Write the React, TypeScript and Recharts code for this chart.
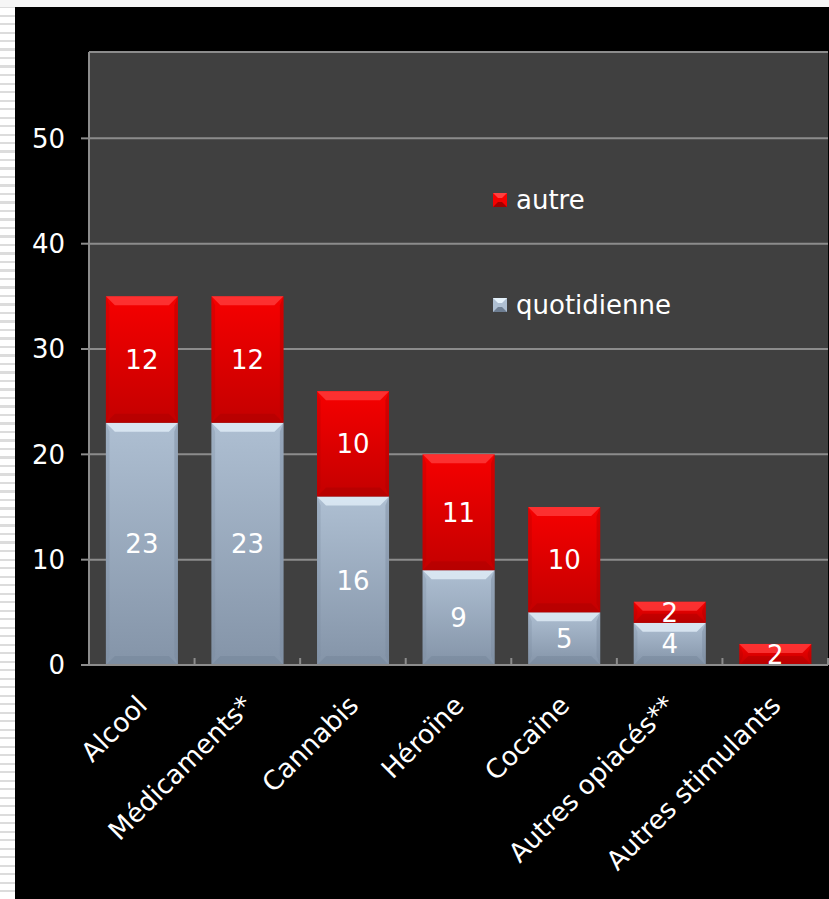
import React from "react"
import { BarChart, Bar, XAxis, YAxis, CartesianGrid, Legend, LabelList } from "recharts"

const categories = ["Alcool", "Médicaments*", "Cannabis", "Héroïne", "Cocaïne", "Autres opiacés**", "Autres stimulants"]
const quotidienne = [23, 23, 16, 9, 5, 4, 0]
const autre = [12, 12, 10, 11, 10, 2, 2]
const yTicks = [0, 10, 20, 30, 40, 50]
const legendOrder = ["autre", "quotidienne"]

const data = categories.map((name, i) => ({ name, quotidienne: quotidienne[i], autre: autre[i] }))

const FONT = "'DejaVu Sans', Verdana, sans-serif"
const GRID = "#8c8c8c"

const palette: Record<string, { top: string; bottom: string; light: string; dark: string; side: string }> = {
  red: { top: "#f60000", bottom: "#c40000", light: "#ff4040", dark: "#a00000", side: "#b00000" },
  grey: { top: "#aebfd2", bottom: "#8494a8", light: "#e6f2fb", dark: "#6e7e92", side: "#7a8a9e" },
}

function BevelBar(props: any) {
  const { x, y, width, height, kind } = props
  if (!height || height <= 0) return null
  const c = palette[kind]
  const d = Math.min(9, height / 2, width / 2)
  const r = x + width
  const b = y + height
  return (
    <g>
      <rect x={x} y={y} width={width} height={height} fill={`url(#grad-${kind})`} />
      <polygon points={`${x},${y} ${r},${y} ${r - d},${y + d} ${x + d},${y + d}`} fill={c.light} opacity={0.75} />
      <polygon points={`${x},${b} ${r},${b} ${r - d},${b - d} ${x + d},${b - d}`} fill={c.dark} opacity={0.35} />
      <polygon points={`${x},${y} ${x + d * 0.4},${y + d} ${x + d * 0.4},${b - d} ${x},${b}`} fill={c.side} opacity={0.3} />
      <polygon points={`${r},${y} ${r - d * 0.4},${y + d} ${r - d * 0.4},${b - d} ${r},${b}`} fill={c.side} opacity={0.45} />
    </g>
  )
}

function XTick(props: any) {
  const { x, y, payload } = props
  const off = payload && payload.offset ? payload.offset : 52.8
  const ax = x + 7
  const ay = y + 42
  return (
    <g>
      <line x1={x + off} x2={x + off} y1={y} y2={y - 7} stroke={GRID} strokeWidth={2} />
      <text
        x={ax}
        y={ay}
        textAnchor="end"
        transform={`rotate(-45, ${ax}, ${ay})`}
        fill="#ffffff"
        fontSize={26.5}
        fontFamily={FONT}
      >
        {payload.value}
      </text>
    </g>
  )
}

function LegendBox(props: any) {
  const items = legendOrder
    .map((k) => (props.payload || []).find((p: any) => p.dataKey === k))
    .filter(Boolean)
  return (
    <div style={{ fontFamily: FONT, fontSize: 26, color: "#fff" }}>
      {items.map((it: any, i: number) => {
        const c = palette[it.dataKey === "autre" ? "red" : "grey"]
        return (
          <div key={it.value} style={{ display: "flex", alignItems: "center", height: 30, marginTop: i === 0 ? 0 : 75 }}>
            <svg width={14} height={14} style={{ marginRight: 9 }}>
              <rect x={0} y={0} width={14} height={14} fill={c.top} />
              <polygon points="0,0 14,0 9,5 5,5" fill={c.light} />
              <polygon points="0,14 14,14 9,9 5,9" fill={c.dark} />
            </svg>
            <span>{it.value}</span>
          </div>
        )
      })}
    </div>
  )
}

export default function App() {
  return (
    <div
      style={{
        position: "fixed",
        left: 0,
        top: 0,
        width: 829,
        height: 899,
        background: "repeating-linear-gradient(to bottom, #ffffff 0px, #ffffff 6px, #dcdcdc 6px, #dcdcdc 8.5px)",
      }}
    >
      <div style={{ position: "absolute", left: 0, top: 0, width: 829, height: 7, background: "#f6f6f6" }} />
      <div style={{ position: "absolute", left: 15, top: 7, width: 814, height: 892, background: "#000" }}>
        <BarChart
          width={814}
          height={892}
          data={data}
          margin={{ top: 45, right: 1, left: 0, bottom: 0 }}
          barCategoryGap="16%"
        >
          <defs>
            <linearGradient id="grad-red" x1="0" y1="0" x2="0" y2="1">
              <stop offset="0%" stopColor={palette.red.top} />
              <stop offset="100%" stopColor={palette.red.bottom} />
            </linearGradient>
            <linearGradient id="grad-grey" x1="0" y1="0" x2="0" y2="1">
              <stop offset="0%" stopColor={palette.grey.top} />
              <stop offset="100%" stopColor={palette.grey.bottom} />
            </linearGradient>
          </defs>
          <CartesianGrid vertical={false} stroke={GRID} strokeWidth={2} fill="#404040" />
          <YAxis
            width={74}
            domain={[0, 58.2]}
            ticks={yTicks}
            interval={0}
            axisLine={{ stroke: GRID, strokeWidth: 2 }}
            tickLine={{ stroke: GRID, strokeWidth: 2 }}
            tickSize={8}
            tickMargin={16}
            tick={{ fill: "#ffffff", fontSize: 26, fontFamily: FONT }}
          />
          <XAxis
            dataKey="name"
            height={234}
            interval={0}
            axisLine={{ stroke: GRID, strokeWidth: 2 }}
            tickLine={false}
            tickSize={0}
            tickMargin={0}
            tick={<XTick />}
          />
          <Legend
            layout="vertical"
            align="center"
            verticalAlign="middle"
            content={<LegendBox />}
            wrapperStyle={{ left: 478, top: 178, width: 260 }}
          />
          <Bar
            dataKey="quotidienne"
            name="quotidienne"
            stackId="a"
            fill={palette.grey.top}
            isAnimationActive={false}
            shape={(p: any) => <BevelBar {...p} kind="grey" />}
          >
            <LabelList
              dataKey="quotidienne"
              position="center"
              fill="#ffffff"
              fontSize={26}
              fontFamily={FONT}
              formatter={(v: any) => (v ? v : "")}
            />
          </Bar>
          <Bar
            dataKey="autre"
            name="autre"
            stackId="a"
            fill={palette.red.top}
            isAnimationActive={false}
            shape={(p: any) => <BevelBar {...p} kind="red" />}
          >
            <LabelList
              dataKey="autre"
              position="center"
              fill="#ffffff"
              fontSize={26}
              fontFamily={FONT}
              formatter={(v: any) => (v ? v : "")}
            />
          </Bar>
        </BarChart>
      </div>
    </div>
  )
}
